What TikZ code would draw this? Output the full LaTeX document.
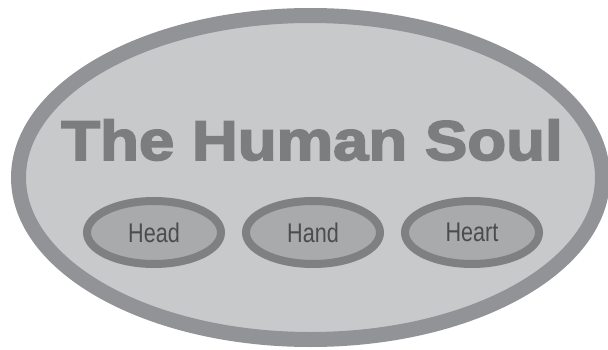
\documentclass[tikz,border=0pt]{standalone}
\usepackage{fontspec}
\usepackage{xcolor}
\usepackage{tikz}
\usetikzlibrary{positioning,shapes.geometric}
\setmainfont{Liberation Sans}
\newfontfamily\titlefont[FakeStretch=1.135,FakeBold=3]{Liberation Sans}
\newfontfamily\labelfont[FakeStretch=0.8]{Liberation Sans}
\definecolor{soulfill}{HTML}{C8C9CB}
\definecolor{soulrim}{HTML}{929396}
\definecolor{soultitle}{HTML}{7C7D7F}
\definecolor{partrim}{HTML}{7F8082}
\definecolor{partfill}{HTML}{A9AAAC}
\definecolor{parttext}{HTML}{4B4C4E}

\begin{document}
\begin{tikzpicture}[
    x=1pt, y=1pt,
    node distance=17pt,
    soul/.style={ellipse, draw=soulrim, fill=soulfill, line width=15pt, minimum width=584pt, minimum height=324pt},
    part/.style={ellipse, draw=partrim, fill=partfill, line width=8pt, minimum width=134pt, minimum height=63pt, inner sep=0pt, text=parttext, font=\labelfont\fontsize{27}{27}\selectfont},
    heading/.style={inner sep=0pt, anchor=base, text=soultitle, font=\titlefont\bfseries\fontsize{56}{56}\selectfont}
]
    \useasboundingbox (0,0) rectangle (608,349);

    % Outer ellipse and title
    \node[soul] (soul) at (310.5,171.5) {};
    \node[heading] (title) at (312,189) {The Human Soul};

    % Three parts
    \node[part] (hand) at (313,116.5) {Hand};
    \node[part, left=of hand] (head) {Head};
    \node[part, right=of hand] (heart) {Heart};
\end{tikzpicture}
\end{document}
